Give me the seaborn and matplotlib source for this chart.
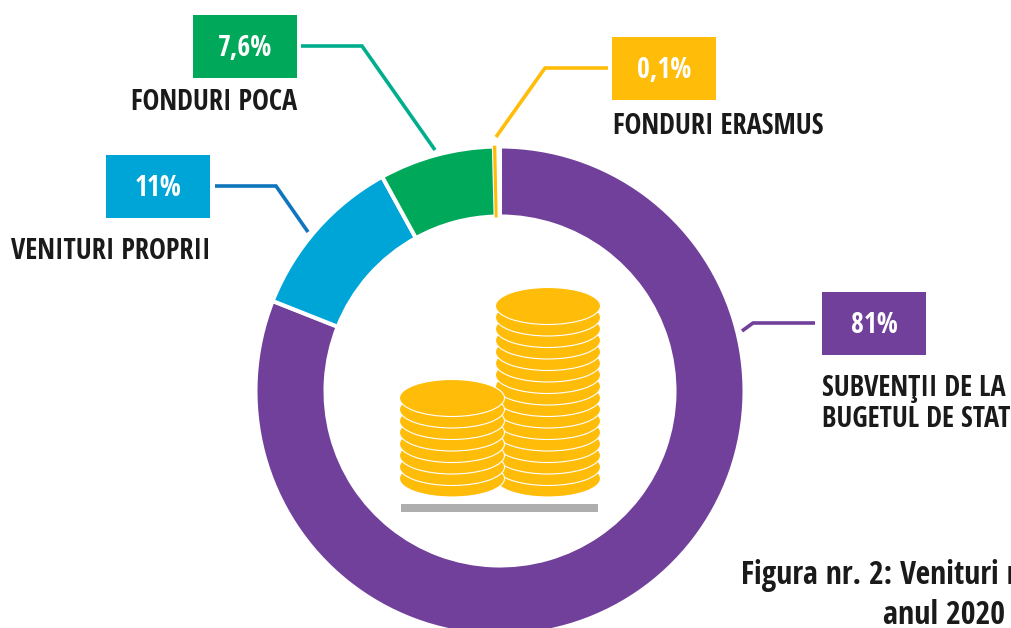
import matplotlib
matplotlib.use('Agg')
import matplotlib.pyplot as plt
from matplotlib.patches import Ellipse, Rectangle
import seaborn as sns
import logging

# ------------------------  data ----------------------------------
categories = ['SUBVENŢII DE LA\nBUGETUL DE STAT', 'VENITURI PROPRII', 'FONDURI POCA', 'FONDURI ERASMUS']
values = [81, 11, 7.6, 0.1]
value_labels = ['81%', '11%', '7,6%', '0,1%']
colors = ['#71409B', '#00A5D8', '#00A85A', '#FFBC08']
line_colors = ['#71409B', '#0F75BC', '#00AE8E', '#FFBC08']
title_lines = ['Figura nr. 2: Venituri r', 'anul 2020']

W, H = 1012, 628
FONT = ['Open Sans Condensed', 'Liberation Sans Narrow', 'Open Sans', 'DejaVu Sans']
DARK = '#1a1a1a'

sns.set_theme(style='white')
plt.rcParams['font.family'] = FONT
logging.getLogger('matplotlib.font_manager').setLevel(logging.ERROR)

fig = plt.figure(figsize=(W / 100, H / 100), dpi=100, facecolor='white')
ax = fig.add_axes([0, 0, 1, 1])


# picture y runs down, axes y runs up
def py(y):
    return H - y


# ------------------------  ring ----------------------------------
wedges, _ = ax.pie([v / 100 for v in values], colors=sns.color_palette(colors), startangle=90,
                   counterclock=False, normalize=False, center=(500, py(391)), radius=244.5,
                   wedgeprops=dict(width=70, edgecolor='white', linewidth=2.9))
# the smallest slice would vanish under a white edge
wedges[3].set_edgecolor(colors[3])
wedges[3].set_linewidth(1.3)
wedges[3].set_zorder(5)

ax.set_xlim(0, W)
ax.set_ylim(0, H)
ax.set_aspect('equal')
ax.axis('off')

# ------------------------  labels and leader lines ----------------------------------
boxes = [(822, 292), (106, 155), (193, 15), (612, 37)]
leaders = [
    ([815, 753, 742], [323, 323, 331]),
    ([215, 276, 308], [186, 186, 232]),
    ([301, 362, 435], [46, 46, 150]),
    ([608, 545, 496], [68, 68, 137]),
]
name_pos = [(822, 404), (11, 251), (131, 102), (613, 126)]

for i in range(4):
    x, y = boxes[i]
    ax.add_patch(Rectangle((x, py(y + 63)), 104, 63, color=colors[i], lw=0))
    ax.text(x + 52, py(y + 33.5), value_labels[i], color='white', fontsize=20, fontweight='bold',
            ha='center', va='center')
    ax.plot(leaders[i][0], [py(v) for v in leaders[i][1]], color=line_colors[i], lw=2.6,
            solid_joinstyle='miter', solid_capstyle='butt')
    ax.text(name_pos[i][0], py(name_pos[i][1]), categories[i], color=DARK, fontsize=20.4,
            fontweight='bold', ha='left', va='center', linespacing=1.07)

# ------------------------  coins ----------------------------------
def coin_stack(cx, count):
    for k in range(count):
        ax.add_patch(Ellipse((cx, py(478.5 - k * 11.5)), 105, 37, facecolor=colors[3],
                             edgecolor='white', lw=0.8, zorder=3))


coin_stack(548, 16)
coin_stack(452, 8)
ax.add_patch(Rectangle((401, py(512)), 197, 8, color='#AEAEAE', lw=0, zorder=3))

# ------------------------  caption ----------------------------------
ax.text(741, py(576), title_lines[0], color=DARK, fontsize=22.8, fontweight='bold', ha='left', va='center')
ax.text(944, py(616), title_lines[1], color=DARK, fontsize=23, fontweight='bold', ha='center', va='center')

fig.savefig('out.png', dpi=100)
